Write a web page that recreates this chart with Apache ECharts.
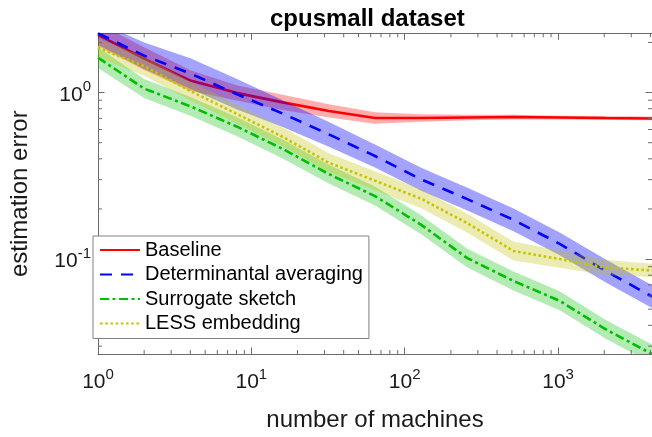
<!DOCTYPE html>
<html><head><meta charset="utf-8">
<script src="https://cdn.jsdelivr.net/npm/echarts@6/dist/echarts.min.js"></script>
<style>html,body{margin:0;padding:0;background:#fff}#c{width:652px;height:437px}</style>
</head><body><div id="c"></div>
<script>
// ---- data ----
const machines = [1, 2, 4, 8, 16, 32, 64, 128, 256, 512, 1024, 2048, 4096];

const baselineMean = [2.22, 1.60, 1.18, 0.996, 0.873, 0.776, 0.703, 0.703, 0.708, 0.713, 0.708, 0.703, 0.699];
const baselineLo   = [1.896, 1.366, 1.022, 0.896, 0.786, 0.708, 0.650, 0.667, 0.681, 0.690, 0.689, 0.685, 0.681];
const baselineHi   = [2.600, 1.874, 1.363, 1.107, 0.970, 0.850, 0.761, 0.741, 0.736, 0.737, 0.727, 0.722, 0.718];

const detMean = [2.270, 1.665, 1.302, 0.980, 0.748, 0.561, 0.416, 0.301, 0.229, 0.172, 0.1234, 0.0848, 0.0595];
const detLo   = [1.939, 1.385, 1.055, 0.794, 0.622, 0.473, 0.355, 0.257, 0.196, 0.147, 0.1054, 0.0724, 0.0508];
const detHi   = [2.658, 2.001, 1.607, 1.209, 0.899, 0.665, 0.487, 0.353, 0.268, 0.201, 0.1445, 0.0993, 0.0697];

const surMean = [1.620, 1.057, 0.827, 0.626, 0.459, 0.324, 0.239, 0.1605, 0.1013, 0.0739, 0.0561, 0.0378, 0.0269];
const surLo   = [1.403, 0.927, 0.725, 0.549, 0.402, 0.284, 0.210, 0.1408, 0.0889, 0.0648, 0.0492, 0.0332, 0.0236];
const surHi   = [1.871, 1.205, 0.942, 0.713, 0.523, 0.369, 0.273, 0.1830, 0.1155, 0.0842, 0.0640, 0.0431, 0.0307];

const lessMean = [1.859, 1.441, 1.023, 0.746, 0.542, 0.379, 0.2956, 0.2303, 0.1641, 0.1118, 0.1000, 0.0889, 0.0854];
const lessLo   = [1.631, 1.264, 0.897, 0.654, 0.476, 0.333, 0.2593, 0.2020, 0.1439, 0.0981, 0.0888, 0.0800, 0.0779];
const lessHi   = [2.119, 1.643, 1.166, 0.850, 0.618, 0.432, 0.3370, 0.2625, 0.1871, 0.1275, 0.1126, 0.0988, 0.0936];

const seriesNames = ['Baseline', 'Determinantal averaging', 'Surrogate sketch', 'LESS embedding'];

const xMin = 1, xMax = 4096;
const yMin = 0.0269, yMax = 2.27;
const xTickVals = [1, 10, 100, 1000];
const xTickExp  = ['0', '1', '2', '3'];
const yTickVals = [0.1, 1];
const yTickExp  = ['-1', '0'];
const xMinorTicks = [2,3,4,5,6,7,8,9,20,30,40,50,60,70,80,90,200,300,400,500,600,700,800,900,2000,3000,4000];
const yMinorTicks = [0.03,0.04,0.05,0.06,0.07,0.08,0.09,0.2,0.3,0.4,0.5,0.6,0.7,0.8,0.9,2];

// ---- styling ----
const FONT = '"Liberation Sans", Arial, Helvetica, sans-serif';
const AX = '#6b6b6b';
const TXT = '#1a1a1a';
const styles = [
  {color: '#ff0000', band: 'rgba(255,0,0,0.32)', type: 'solid'},
  {color: '#0000ff', band: 'rgba(0,0,255,0.36)', type: [12, 9]},
  {color: '#00bf00', band: 'rgba(0,191,0,0.30)', type: [9, 3.5, 3, 3.5]},
  {color: '#c4c400', band: 'rgba(191,191,0,0.30)', type: [2.6, 2.6]}
];
const groups = [
  [baselineMean, baselineLo, baselineHi],
  [detMean, detLo, detHi],
  [surMean, surLo, surHi],
  [lessMean, lessLo, lessHi]
];

function labelFor(vals, exps) {
  return function (v) {
    for (let i = 0; i < vals.length; i++) {
      if (Math.abs(Math.log10(v) - Math.log10(vals[i])) < 1e-6) return '{b|10}{s|' + exps[i] + '}';
    }
    return '';
  };
}
const richLbl = {
  b: {fontSize: 21, fontFamily: FONT, color: TXT, lineHeight: 26, verticalAlign: 'bottom'},
  s: {fontSize: 15, fontFamily: FONT, color: TXT, lineHeight: 15, verticalAlign: 'top'}
};

const series = [];
groups.forEach((g, i) => {
  const [mean, lo, hi] = g;
  series.push({
    type: 'custom', name: seriesNames[i] + ' band', silent: true, clip: true,
    xAxisIndex: 0, yAxisIndex: 0,
    data: machines.map((x, j) => [x, lo[j], hi[j]]),
    encode: {x: 0, y: [1, 2]},
    renderItem: function (params, api) {
      if (params.dataIndex !== 0) return null;
      const top = [], bot = [];
      for (let j = 0; j < machines.length; j++) {
        top.push(api.coord([machines[j], hi[j]]));
        bot.push(api.coord([machines[j], lo[j]]));
      }
      const pts = top.concat(bot.reverse());
      return {type: 'polygon', shape: {points: pts}, style: {fill: styles[i].band, stroke: null}};
    },
    z: 2 + 2 * i
  });
  series.push({
    type: 'line', name: seriesNames[i],
    data: machines.map((x, j) => [x, mean[j]]),
    symbol: 'none',
    lineStyle: {color: styles[i].color, width: 2.6, type: styles[i].type, cap: 'butt'},
    itemStyle: {color: styles[i].color},
    z: 3 + 2 * i
  });
});

series.push({
  type: 'custom', name: 'xminor', silent: true, z: 50, xAxisIndex: 0, yAxisIndex: 0,
  data: xMinorTicks.map(v => [v, 1]),
  renderItem: function (params, api) {
    const cs = params.coordSys;
    const px = api.coord([api.value(0), 1])[0];
    const b = cs.y + cs.height, t = cs.y;
    return {type: 'group', children: [
      {type: 'line', shape: {x1: px, y1: b, x2: px, y2: b - 4}, style: {stroke: AX, lineWidth: 1}},
      {type: 'line', shape: {x1: px, y1: t, x2: px, y2: t + 4}, style: {stroke: AX, lineWidth: 1}}
    ]};
  }
});
series.push({
  type: 'custom', name: 'yminor', silent: true, z: 50, xAxisIndex: 0, yAxisIndex: 0,
  data: yMinorTicks.map(v => [10, v]),
  renderItem: function (params, api) {
    const cs = params.coordSys;
    const py = api.coord([10, api.value(1)])[1];
    const l = cs.x, r = cs.x + cs.width;
    return {type: 'group', children: [
      {type: 'line', shape: {x1: l, y1: py, x2: l + 4, y2: py}, style: {stroke: AX, lineWidth: 1}},
      {type: 'line', shape: {x1: r, y1: py, x2: r - 4, y2: py}, style: {stroke: AX, lineWidth: 1}}
    ]};
  }
});

function logAxis(extra) {
  return Object.assign({
    type: 'log', logBase: 10,
    axisLine: {show: true, lineStyle: {color: AX, width: 1}},
    axisTick: {show: true, inside: true, length: 6.5, lineStyle: {color: AX, width: 1}},
    splitLine: {show: false},
    minorTick: {show: false},
    axisPointer: {show: false}
  }, extra);
}

const option = {
  animation: false,
  backgroundColor: '#ffffff',
  title: {
    text: 'cpusmall dataset', left: 270, top: 7, padding: 0,
    textStyle: {fontFamily: FONT, fontSize: 24, fontWeight: 'bold', color: '#000'}
  },
  grid: {left: 83.5, top: 33.3, width: 569.5, height: 337.7, containLabel: false},
  legend: {
    data: seriesNames, orient: 'vertical', left: 93, top: 236,
    padding: [4, 6, 5, 6], itemWidth: 40, itemHeight: 20, itemGap: 4.5,
    backgroundColor: '#ffffff', borderColor: '#808080', borderWidth: 1, borderRadius: 0,
    textStyle: {fontFamily: FONT, fontSize: 20, color: '#000', lineHeight: 20},
    itemStyle: {opacity: 0},
    selectedMode: false, z: 100
  },
  xAxis: [
    logAxis({min: xMin, max: xMax, position: 'bottom',
      axisLabel: {formatter: labelFor(xTickVals, xTickExp), margin: 13, rich: richLbl, showMaxLabel: false},
      name: 'number of machines', nameLocation: 'middle', nameGap: 54,
      nameTextStyle: {fontFamily: FONT, fontSize: 24, color: TXT}}),
    logAxis({min: xMin, max: xMax, position: 'top', axisLabel: {show: false}})
  ],
  yAxis: [
    logAxis({min: yMin, max: yMax, position: 'left',
      axisLabel: {formatter: labelFor(yTickVals, yTickExp), margin: 7, rich: richLbl, showMaxLabel: false, showMinLabel: false},
      name: 'estimation error', nameLocation: 'middle', nameGap: 66, nameRotate: 90,
      nameTextStyle: {fontFamily: FONT, fontSize: 24, color: TXT}}),
    logAxis({min: yMin, max: yMax, position: 'right', axisLabel: {show: false}})
  ],
  series: series
};

const chart = echarts.init(document.getElementById('c'), null, {renderer: 'canvas'});
chart.setOption(option);
</script>
</body></html>
